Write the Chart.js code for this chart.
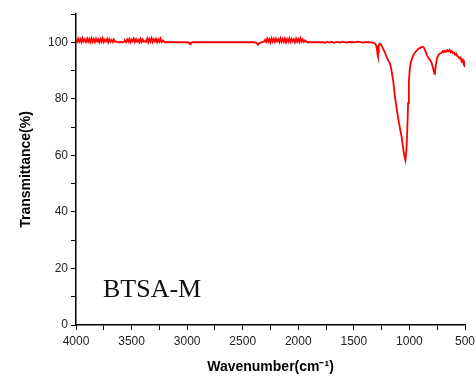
<!DOCTYPE html>
<html>
<head>
<meta charset="utf-8">
<script src="https://cdn.jsdelivr.net/npm/chart.js@4.4.0/dist/chart.umd.min.js"></script>
<style>
  html, body { margin: 0; padding: 0; background: #fff; }
  #wrap { width: 476px; height: 376px; }
</style>
</head>
<body>
<div id="wrap"><canvas id="ftir"></canvas></div>
<script>
// Spectre FTIR (BTSA-M)
const sampleLabel = "BTSA-M";

// bande bruitée 4000-3650
const bandA_x = [4000,3990,3980,3970,3960,3950,3940,3930,3920,3910,3900,3890,3880,3870,3860,3850,3840,3830,3820,3810,3800,3790,3780,3770,3760,3750,3740,3730,3720,3710,3700,3690,3680,3670,3660,3650];
const bandA_y = [100.9,100.1,101.3,100.2,101.1,100.0,101.4,100.3,101.0,100.1,101.3,100.2,101.2,100.0,101.4,100.2,101.1,100.1,101.3,100.3,101.0,100.0,101.2,100.2,101.4,100.1,100.9,100.3,101.2,100.0,101.1,100.2,100.8,100.1,101.0,100.2];

const gap1_x = [3640,3620,3600,3580,3565];
const gap1_y = [100.3,100.0,100.1,100.0,100.2];

// bande bruitée 3560-3220
const bandB_x = [3560,3550,3540,3530,3520,3510,3500,3490,3480,3470,3460,3450,3440,3430,3420,3410,3400,3390,3380,3370,3360,3350,3340,3330,3320,3310,3300,3290,3280,3270,3260,3250,3240,3230,3220];
const bandB_y = [100.6,100.1,101.0,100.2,101.2,100.0,100.9,100.3,101.3,100.1,101.1,100.2,100.8,100.0,101.2,100.1,101.0,100.2,100.4,100.1,101.3,100.0,101.2,100.2,101.4,100.1,101.1,100.3,101.2,100.0,101.0,100.2,101.3,100.1,100.6];

const mid_x = [3200,3100,3000,2980,2974,2968,2950,2800,2600,2400,2375,2363,2352,2330,2310];
const mid_y = [100.0,100.0,100.0,99.8,99.3,99.8,100.0,100.0,100.0,100.0,99.8,99.1,99.7,100.0,100.2];

// bande bruitée 2300-1940
const bandC_x = [2300,2290,2280,2270,2260,2250,2240,2230,2220,2210,2200,2190,2180,2170,2160,2150,2140,2130,2120,2110,2100,2090,2080,2070,2060,2050,2040,2030,2020,2010,2000,1990,1980,1970,1960,1950,1940];
const bandC_y = [100.8,100.1,101.3,100.2,101.1,100.0,101.4,100.2,101.2,100.1,101.3,100.3,101.0,100.0,101.4,100.2,101.2,100.1,101.3,100.0,101.1,100.2,101.4,100.1,101.2,100.3,101.0,100.0,101.3,100.2,101.1,100.1,101.4,100.2,101.0,100.1,100.7];

// zone de bandes d'absorption
const tail_x = [1920,1850,1780,1760,1740,1720,1700,1680,1650,1620,1600,1570,1540,1500,1460,1420,1380,1350,1330,1310,1300,1292,1286,1283,1280,1276,1268,1260,1250,1240,1225,1205,1190,1175,1160,1145,1130,1115,1100,1085,1070,1058,1048,1040,1035,1028,1020,1012,1005,998,990,975,960,940,920,900,880,868,855,840,828,815,800,788,780,775,770,762,752,740,725,710,700,690,680,670,660,650,640,630,620,610,600,590,580,570,560,550,540,530,520,512,505,500];
const tail_y = [100.0,100.0,100.0,99.8,100.2,99.9,100.2,99.8,100.1,99.9,100.2,99.9,100.1,100.0,100.2,99.9,100.1,100.0,99.9,99.6,98.9,97.5,95.5,95.0,96.5,98.8,99.5,99.4,98.8,97.9,96.8,94.8,93.6,92.5,89.8,86.0,80.7,76.5,72.8,69.5,66.5,63.0,60.2,58.9,58.6,61.5,68.0,78.5,86.0,90.0,92.5,94.5,95.8,96.9,97.6,98.1,98.4,98.0,96.8,95.3,94.4,93.8,92.6,91.0,89.6,88.8,89.5,92.0,94.3,95.4,96.1,96.3,96.9,96.5,97.0,96.6,97.2,96.8,97.3,96.5,96.9,96.2,96.4,95.6,96.0,95.1,94.9,94.3,94.6,93.2,93.8,92.4,92.9,91.2];

const wavenumber = [].concat(bandA_x, gap1_x, bandB_x, mid_x, bandC_x, tail_x);
const transmittance = [].concat(bandA_y, gap1_y, bandB_y, mid_y, bandC_y, tail_y);
const spectrum = wavenumber.map((w, i) => ({ x: w, y: transmittance[i] }));

// étiquette de l'échantillon dans le graphe
const labelPlugin = {
  id: "sampleLabel",
  afterDraw: (chart) => {
    const { ctx, chartArea } = chart;
    ctx.save();
    ctx.font = "26px 'Liberation Serif', 'DejaVu Serif', serif";
    ctx.fillStyle = "#111";
    ctx.textBaseline = "alphabetic";
    ctx.fillText(sampleLabel, chartArea.left + 27, 297);
    ctx.restore();
  },
};

const tickFont = { family: "'Liberation Sans', Arial, sans-serif", size: 12 };
const titleFont = { family: "'Liberation Sans', Arial, sans-serif", size: 14, weight: "bold" };

const ctx = document.getElementById("ftir").getContext("2d");
const ftirChart = new Chart(ctx, {
  type: "scatter",
  data: {
    datasets: [
      {
        label: sampleLabel,
        data: spectrum,
        showLine: true,
        borderColor: "#ff0000",
        borderWidth: 1.8,
        pointRadius: 0,
        tension: 0,
      },
    ],
  },
  options: {
    responsive: true,
    maintainAspectRatio: false,
    animation: false,
    layout: {
      padding: { top: 14, right: 11, left: 14, bottom: 0 },
    },
    scales: {
      x: {
        type: "linear",
        reverse: true,
        min: 500,
        max: 4000,
        afterFit: (scale) => {
          scale.height = 51;
          scale.paddingLeft = 0;
          scale.paddingRight = 0;
        },
        grid: { drawOnChartArea: false, drawTicks: true, tickLength: 5, color: "#000" },
        border: { display: true, color: "#000", width: 1.5 },
        ticks: {
          stepSize: 250,
          autoSkip: false,
          maxRotation: 0,
          padding: 4,
          color: "#222",
          font: tickFont,
          callback: (v) => (v % 500 === 0 ? v : ""),
        },
        title: {
          display: true,
          text: "Wavenumber(cm⁻¹)",
          color: "#000",
          font: titleFont,
          padding: { top: 0, bottom: 0 },
        },
      },
      y: {
        min: 0,
        max: 110,
        afterFit: (scale) => { scale.width = 62; },
        grid: { drawOnChartArea: false, drawTicks: true, tickLength: 5, color: "#000" },
        border: { display: true, color: "#000", width: 1.5 },
        ticks: {
          stepSize: 10,
          autoSkip: false,
          padding: 3,
          color: "#222",
          font: tickFont,
          callback: (v) => (v % 20 === 0 && v <= 100 ? v : ""),
        },
        title: {
          display: true,
          text: "Transmittance(%)",
          color: "#000",
          font: titleFont,
          padding: { top: 4, bottom: 4 },
        },
      },
    },
    plugins: {
      legend: { display: false },
      tooltip: { enabled: false },
    },
  },
  plugins: [labelPlugin],
});
</script>
</body>
</html>
